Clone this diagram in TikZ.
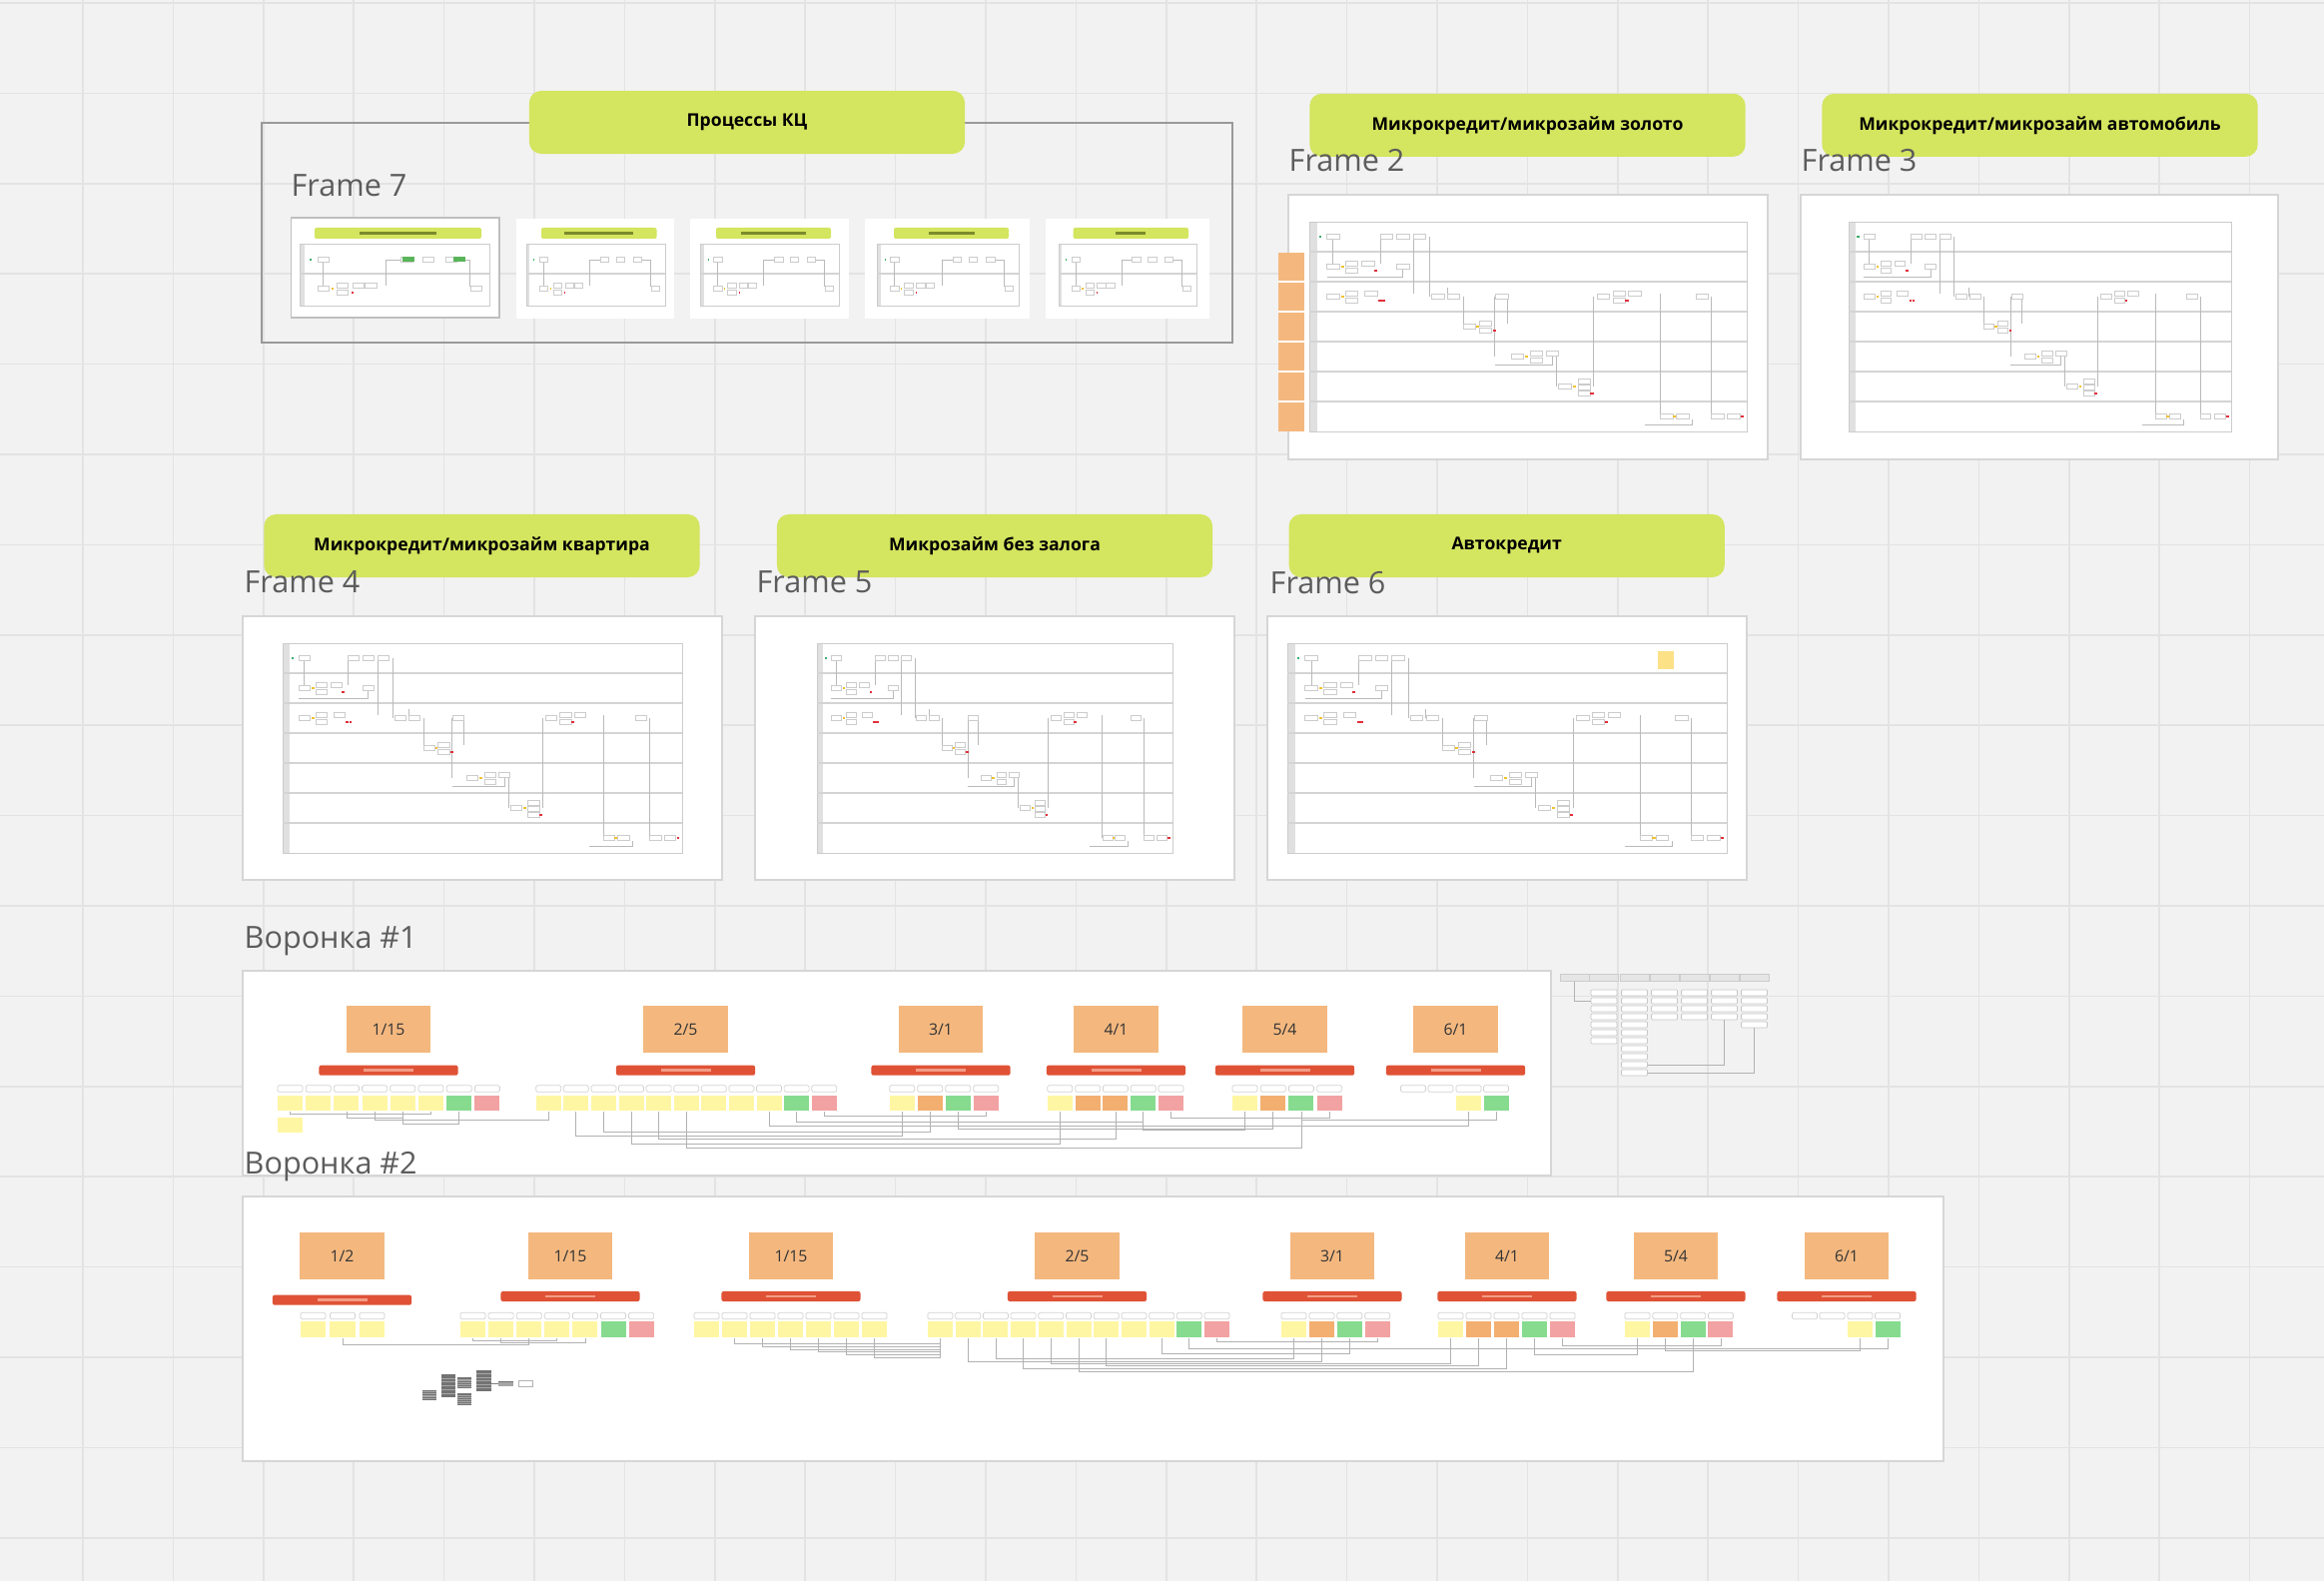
\documentclass[tikz,border=0pt]{standalone}
\usepackage{fontspec}
\setmainfont{Open Sans}
\usetikzlibrary{calc,positioning}

\definecolor{board}{HTML}{F2F2F2}
\definecolor{gridgray}{HTML}{E3E3E3}
\definecolor{limelabel}{HTML}{D4E55F}
\definecolor{limedark}{HTML}{7C8B2C}
\definecolor{sticky}{HTML}{F4B87F}
\definecolor{barred}{HTML}{DF5236}
\definecolor{barlight}{HTML}{F29C86}
\definecolor{yel}{HTML}{FFF6A3}
\definecolor{grn}{HTML}{86DB8F}
\definecolor{pnk}{HTML}{F2A2A2}
\definecolor{org}{HTML}{F3AF70}
\definecolor{titlegray}{HTML}{5C5C5C}
\definecolor{framegray}{HTML}{D6D6D6}
\definecolor{dotyel}{HTML}{F2C12E}
\definecolor{dotred}{HTML}{E0303A}
\definecolor{dotgrn}{HTML}{3DAE6A}

\tikzset{
	gridline/.style={draw=gridgray, line width=0.45pt},
	lbl/.style={fill=limelabel, rounded corners=0.12cm, minimum width=4.36cm, minimum height=0.63cm, inner sep=0pt, font=\bfseries\fontsize{5}{6}\selectfont},
	ftitle/.style={anchor=base west, inner sep=0pt, text=titlegray, font=\fontsize{8.7}{10}\selectfont},
	whiteframe/.style={fill=white, draw=framegray, line width=0.35pt},
	lane/.style={draw=black!20, line width=0.25pt},
	lanesep/.style={draw=black!17, line width=0.5pt},
	mini/.style={draw=black!20, fill=white, line width=0.15pt},
	flowline/.style={draw=black!27, line width=0.15pt},
	stick/.style={fill=sticky, minimum width=0.84cm, minimum height=0.47cm, inner sep=0pt, font=\fontsize{4.5}{5}\selectfont, text=black!80},
	redbar/.style={fill=barred, rounded corners=0.02cm, minimum width=1.39cm, minimum height=0.10cm, inner sep=0pt},
	barline/.style={draw=barlight, line width=0.8pt},
	chip/.style={draw=black!18, fill=white, rounded corners=0.015cm, minimum width=0.25cm, minimum height=0.066cm, inner sep=0pt, line width=0.2pt},
	sq/.style={minimum width=0.25cm, minimum height=0.156cm, inner sep=0pt},
	link/.style={draw=black!30, line width=0.2pt},
	cell/.style={draw=black!20, fill=black!10, minimum width=0.29cm, minimum height=0.077cm, inner sep=0pt, line width=0.2pt},
	tchip/.style={draw=black!22, fill=white, rounded corners=0.01cm, minimum width=0.26cm, minimum height=0.06cm, inner sep=0pt, line width=0.2pt}
}

\newcommand\procmap[3]{%
	\begin{scope}[shift={(#1,#2)},xscale=#3/100]
		\fill[black!12] (0,0) rectangle (1.8,210);
		\draw[lane] (0,0) rectangle (100,210);
		\foreach \k in {1,...,6} \draw[lanesep] (0,30*\k) -- (100,30*\k);
		\foreach \lx/\ya/\yb in {5.4/17/43, 16.3/15/42, 23.8/15/72, 27.5/15/75, 31.5/66/75, 35.2/75/105, 42.4/75/135, 45.3/75/102, 56.5/135/165, 65/75/165, 80.2/72/195, 91.9/75/195}
			\draw[flowline] (\lx,\ya) -- (\lx,\yb);
		\draw[flowline] (4,55) -- (21.4,55) -- (21.4,48);
		\draw[flowline] (42.4,143) -- (55.5,143) -- (55.5,135);
		\draw[flowline] (76.7,203) -- (87.5,203) -- (87.5,198);
		\foreach \bx/\by in {5.4/15, 17.7/15, 21.4/15, 25.2/15, 5.4/45, 9.7/42, 9.7/49, 13.4/42, 21.4/45, 5.4/75, 9.7/72, 9.7/79, 14.1/72, 29.4/75, 33/75, 44/75, 67.2/75, 70.8/72, 70.8/79, 74.4/72, 89.7/75, 36.6/105, 40.3/102, 40.3/109, 47.5/135, 51.9/132, 55.5/132, 51.9/139, 58.4/165, 62.8/160, 62.8/166, 62.8/172, 81.7/195, 85.3/195, 93.3/195, 97/195}
			\draw[mini] (\bx-1.4,\by-2.3) rectangle (\bx+1.4,\by+2.3);
		\foreach \px/\py in {7.6/45, 7.6/75, 38.5/105, 49.6/135, 60.6/165, 83.4/195}
			\fill[dotyel] (\px-0.35,\py-1.2) rectangle (\px+0.35,\py+1.2);
		\foreach \px/\py in {15.2/49, 16.2/79, 17/79, 42.3/109, 64.6/172, 99/195, 72.6/79}
			\fill[dotred] (\px-0.35,\py-1.2) rectangle (\px+0.35,\py+1.2);
		\fill[dotgrn] (2.2,13.8) rectangle (2.8,16.2);
	\end{scope}}

\newcommand\thumbmap[2]{%
	\begin{scope}[shift={(#1,244)},xscale=#2/100]
		\fill[black!12] (0,0) rectangle (2.5,62);
		\draw[lane] (0,0) rectangle (100,62);
		\draw[lanesep] (0,30) -- (100,30);
		\foreach \lx/\ya/\yb in {12.4/18/43, 45.6/16/42, 89.6/16/43}
			\draw[flowline] (\lx,\ya) -- (\lx,\yb);
		\draw[flowline] (45.6,16) -- (53.4,16);
		\draw[flowline] (83,16) -- (89.6,16);
		\foreach \bx/\by in {12.4/16, 56.4/16, 67.9/16, 80/16, 12.4/45, 22.5/42, 22.5/49, 30.9/42, 37.6/42, 93/45}
			\draw[mini] (\bx-3,\by-2.3) rectangle (\bx+3,\by+2.3);
		\fill[dotgrn] (5.3,14.8) rectangle (6.1,17.2);
		\fill[dotyel] (17,43.8) rectangle (17.8,46.2);
		\fill[dotred] (27.6,47.8) rectangle (28.4,50.2);
	\end{scope}}

\begin{document}
\begin{tikzpicture}[x=0.01cm,y=-0.01cm]
			%%%%% BOARD %%%%%
			\useasboundingbox (0,0) rectangle (2327,1583);
			\fill[board] (0,0) rectangle (2327,1583);
			\foreach \k in {0,...,24} \draw[gridline] (83+90.4*\k,0) -- (83+90.4*\k,1583);
			\foreach \k in {0,...,17} \draw[gridline] (0,3+90.4*\k) -- (2327,3+90.4*\k);
			
			%%%%% FRAME 7 %%%%%
			\draw[black!40, line width=0.4pt] (262,123) rectangle (1234,343);
			\foreach \fx/\fX/\gx/\gX/\lf/\mx/\mw in {291.5/500/315/482/0.27/300/190, 516.6/675.4/542/657.5/0.2/527/139, 691.3/849.5/717/832/0.22/701.5/138.5, 866/1031/895/1010/0.3/878/142, 1046.5/1211/1074.6/1190/0.37/1060/138}
			{
				\fill[white] (\fx,219) rectangle (\fX,319);
				\fill[limelabel, rounded corners=0.02cm] (\gx,228) rectangle (\gX,239);
				\draw[limedark, line width=0.6pt] ({\gx+\lf*(\gX-\gx)},233.5) -- ({\gX-\lf*(\gX-\gx)},233.5);
				\thumbmap{\mx}{\mw}
			}
			\draw[black!25, line width=0.4pt] (291.5,218) rectangle (500,318);
			\fill[green!55!black!65] (403,257.5) rectangle (415,262.5);
			\fill[green!55!black!65] (454,257.5) rectangle (466,262.5);
			
			%%%%% LABELS %%%%%
			\node[lbl] (kc) at (748,122.5) {Процессы КЦ};
			\node[lbl] (gold) at (1529.5,125.3) {Микрокредит/микрозайм золото};
			\node[lbl] (auto) at (2042.5,125.3) {Микрокредит/микрозайм автомобиль};
			\node[lbl] (flat) at (482.5,546.5) {Микрокредит/микрозайм квартира};
			\node[lbl] (nopledge) at (996,546.5) {Микрозайм без залога};
			\node[lbl] (carloan) at (1508.7,546.5) {Автокредит};
			
			\node[ftitle] (f7) at (291,197) {Frame 7};
			\node[ftitle] (f2) at (1290,172) {Frame 2};
			\node[ftitle] (f3) at (1803,172) {Frame 3};
			\node[ftitle] (f4) at (244,594) {Frame 4};
			\node[ftitle] (f5) at (757,594) {Frame 5};
			\node[ftitle] (f6) at (1271,595) {Frame 6};
			
			%%%%% FRAMES 2-6 %%%%%
			\draw[whiteframe] (1290,195) rectangle (1770,460);
			\draw[whiteframe] (1803,195) rectangle (2281,460);
			\draw[whiteframe] (243,617) rectangle (723,881);
			\draw[whiteframe] (756,617) rectangle (1236,881);
			\draw[whiteframe] (1269,617) rectangle (1749,881);
			
			\procmap{1311}{222}{438}
			\procmap{1851}{222}{383}
			\procmap{283}{644}{400}
			\procmap{818}{644}{356}
			\procmap{1289}{644}{440}
			
			\fill[sticky] (1280,253) rectangle (1306,432);
			\foreach \y in {282,312,342,372,402} \draw[white, line width=0.6pt] (1280,\y) -- (1306,\y);
			\fill[yellow!55!orange!45] (1660,652) rectangle (1676,670);
			
			%%%%% ВОРОНКА 1 %%%%%
			\node[ftitle] (v1title) at (244,950) {Воронка \#1};
			\draw[whiteframe] (243,972) rectangle (1553,1177);
			\foreach \g/\cx/\txt/\sx/\pitch/\cols in {a/389/{1/15}/278/28.2/{yel,yel,yel,yel,yel,yel,grn,pnk}, b/686.5/{2/5}/536.7/27.6/{yel,yel,yel,yel,yel,yel,yel,yel,yel,grn,pnk}, c/942/{3/1}/890.7/28/{yel,org,grn,pnk}, d/1117.5/{4/1}/1048.8/27.8/{yel,org,org,grn,pnk}, e/1286.5/{5/4}/1234/28.2/{yel,org,grn,pnk}, f/1457.5/{6/1}/1458/27.5/{yel,grn}}
			{
				\node[stick] (v1\g st) at (\cx,1030.5) {\txt};
				\node[redbar] (v1\g bar) at (\cx,1071.7) {};
				\draw[barline] ($(v1\g bar.center)+(-25,0)$) -- ($(v1\g bar.center)+(25,0)$);
				\foreach \c [count=\i] in \cols {
					\node[chip] (v1\g ch\i) at (\sx+12.5+\pitch*\i-\pitch,1090) {};
					\node[sq,fill=\c] (v1\g\i) at (\sx+12.5+\pitch*\i-\pitch,1104.5) {};
				}
			}
			\node[sq,fill=yel] (v1a0) at (290.5,1126.5) {};
			\node[chip] (v1fchx) at (1415,1090) {};
			\node[chip] (v1fchy) at (1442.5,1090) {};
			
			\draw[link] (v1a1.south) -- ++(0,2) -| (v1a6.south);
			\draw[link] (v1a3.south) -- ++(0,6) -| (v1a5.south);
			\draw[link] (v1a4.south) -- ++(0,8) -| (v1a7.south);
			\draw[link] (v1a5.south) -- ++(0,12) -| (v1a7.south);
			\draw[link] (v1a7.south) -- ++(0,8) -| (v1b1.south);
			\draw[link] (v1b2.south) -- ++(0,24) -| (v1c1.south);
			\draw[link] (v1b3.south) -- ++(0,20) -| (v1c2.south);
			\draw[link] (v1b4.south) -- ++(0,32) -| (v1d1.south);
			\draw[link] (v1b5.south) -- ++(0,27) -| (v1d3.south);
			\draw[link] (v1b6.south) -- ++(0,36) -| (v1e3.south);
			\draw[link] (v1b9.south) -- ++(0,14) -| (v1f1.south);
			\draw[link] (v1b10.south) -- ++(0,10) -| (v1d4.south);
			\draw[link] (v1b11.south) -- ++(0,4) -| (v1c4.south);
			\draw[link] (v1c3.south) -- ++(0,17) -| (v1e2.south);
			\draw[link] (v1d4.south) -- ++(0,18) -| (v1e1.south);
			\draw[link] (v1d5.south) -- ++(0,6) -| (v1e4.south);
			\draw[link] (v1e3.south) -- ++(0,8) -| (v1f2.south);
			
			%%%%% TABLE %%%%%
			\foreach \tx [count=\k] in {1576.7,1606,1636.5,1666.5,1696.5,1726.5,1756.5}
				\node[cell] (tb\k) at (\tx,978.8) {};
			\foreach \k/\n in {2/7,3/11,4/4,5/4,6/4,7/5}
				\foreach \j in {1,...,\n}
					\node[tchip] (tc\k-\j) at ($(tb\k.south)+(0,3+8*\j)$) {};
			\draw[link] (tb1.south) |- (tc2-2.west);
			\draw[link] (tc3-10.east) -| (tc6-4.south);
			\draw[link] (tc3-11.east) -| (tc7-5.south);
			
			%%%%% ВОРОНКА 2 %%%%%
			\draw[whiteframe] (243,1198) rectangle (1946,1463);
			\node[ftitle] (v2title) at (244,1176) {Воронка \#2};
			\foreach \g/\cx/\by/\txt/\sx/\pitch/\cols in {A/342.5/1301.7/{1/2}/301/29.5/{yel,yel,yel}, B/571/1298/{1/15}/461/28.1/{yel,yel,yel,yel,yel,grn,pnk}, C/792/1298/{1/15}/695/28/{yel,yel,yel,yel,yel,yel,yel}, D/1078.5/1298/{2/5}/929/27.7/{yel,yel,yel,yel,yel,yel,yel,yel,yel,grn,pnk}, E/1334/1298/{3/1}/1283/27.9/{yel,org,grn,pnk}, F/1509/1298/{4/1}/1440/28/{yel,org,org,grn,pnk}, G/1678/1298/{5/4}/1627/27.8/{yel,org,grn,pnk}, H/1849/1298/{6/1}/1850/27.5/{yel,grn}}
			{
				\node[stick] (v2\g st) at (\cx,1257.5) {\txt};
				\node[redbar] (v2\g bar) at (\cx,\by) {};
				\draw[barline] ($(v2\g bar.center)+(-25,0)$) -- ($(v2\g bar.center)+(25,0)$);
				\foreach \c [count=\i] in \cols {
					\node[chip] (v2\g ch\i) at (\sx+12.5+\pitch*\i-\pitch,1317.5) {};
					\node[sq,fill=\c] (v2\g\i) at (\sx+12.5+\pitch*\i-\pitch,1331) {};
				}
			}
			\node[chip] (v2Hchx) at (1807,1317.5) {};
			\node[chip] (v2Hchy) at (1834.5,1317.5) {};
			
			\draw[link] (v2A2.south) -- ++(0,7) -| (v2B3.south);
			\draw[link] (v2B1.south) -- ++(0,3) -| (v2B4.south);
			\draw[link] (v2B2.south) -- ++(0,5) -| (v2B5.south);
			\foreach \i/\dd in {2/6,3/9,4/12,5/14,6/17,7/20}
				\draw[link] (v2C\i.south) -- ++(0,\dd) -| (v2D1.south);
			\draw[link] (v2D2.south) -- ++(0,24) -| (v2E2.south);
			\draw[link] (v2D3.south) -- ++(0,21) -| (v2E1.south);
			\draw[link] (v2D4.south) -- ++(0,31) -| (v2F3.south);
			\draw[link] (v2D5.south) -- ++(0,26) -| (v2F1.south);
			\draw[link] (v2D6.south) -- ++(0,34) -| (v2G3.south);
			\draw[link] (v2D7.south) -- ++(0,28) -| (v2F2.south);
			\draw[link] (v2D9.south) -- ++(0,16) -| (v2E3.south);
			\draw[link] (v2D10.south) -- ++(0,11) -| (v2H2.south);
			\draw[link] (v2D11.south) -- ++(0,4) -| (v2E4.south);
			\draw[link] (v2F4.south) -- ++(0,17) -| (v2G1.south);
			\draw[link] (v2F5.south) -- ++(0,8) -| (v2G4.south);
			\draw[link] (v2G2.south) -- ++(0,13) -| (v2H1.south);
			
			%%%%% GRAY CLUSTER %%%%%
			\foreach \ax/\ay/\bx/\by in {423/1392/437/1402, 442/1376/456/1399, 458/1379/472/1390, 458/1395/472/1407, 477/1372/491.5/1393, 499/1383/514/1388}
			{
				\fill[black!55] (\ax,\ay) rectangle (\bx,\by);
				\foreach \s in {1,...,5} \draw[black!35, line width=0.15pt] (\ax,{\ay+\s*(\by-\ay)/6}) -- (\bx,{\ay+\s*(\by-\ay)/6});
			}
			\draw[black!30, fill=white, line width=0.2pt] (519,1382) rectangle (533,1388);
			\draw[black!50, line width=0.2pt] (491.5,1385.5) -- (499,1385.5);
			
		\end{tikzpicture}
\end{document}
